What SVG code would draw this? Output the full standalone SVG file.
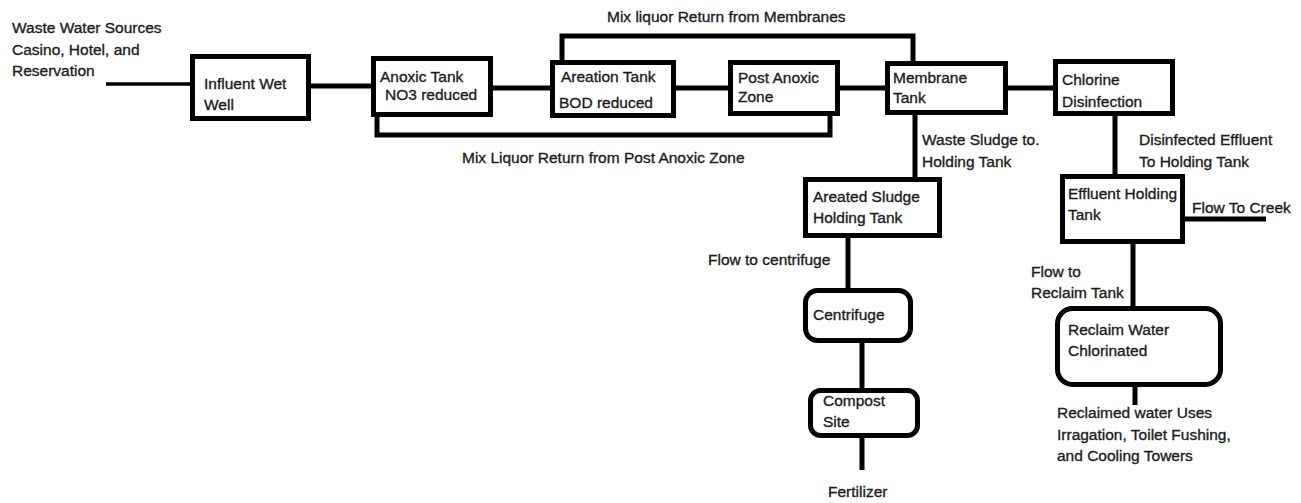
<svg xmlns="http://www.w3.org/2000/svg" width="1301" height="503" viewBox="0 0 1301 503">
<style>
.box{fill:#fff;stroke:#000;stroke-width:5}
.ln{fill:none;stroke:#000;stroke-width:5;stroke-linejoin:miter}
text{font-family:"Liberation Sans",Arial,sans-serif;font-size:15.5px;fill:#1c1c1c;stroke:#1c1c1c;stroke-width:0.35}
</style>
<rect width="1301" height="503" fill="#fff"/>
<g id="connectors">
<path class="ln" d="M106 84 H192" style="stroke-width:3.5"/>
<path class="ln" d="M311 86 H373"/>
<path class="ln" d="M493 88 H552"/>
<path class="ln" d="M676 88 H730"/>
<path class="ln" d="M840 88 H887"/>
<path class="ln" d="M1008 88 H1055"/>
<path class="ln" d="M562 62 V36 H913 V63"/>
<path class="ln" d="M377 115 V135 H830 V114"/>
<path class="ln" d="M915 115 V179"/>
<path class="ln" d="M848 238 V290"/>
<path class="ln" d="M862 343 V390"/>
<path class="ln" d="M862 438 V470"/>
<path class="ln" d="M1115 116 V176"/>
<path class="ln" d="M1185 219 H1266"/>
<path class="ln" d="M1133 244 V308"/>
<path class="ln" d="M1135 387 V405"/>
</g>
<g id="labels">
<text x="12" y="33">Waste Water Sources</text>
<text x="12" y="55">Casino, Hotel, and</text>
<text x="12" y="76">Reservation</text>
<text x="607" y="22">Mix liquor Return from Membranes</text>
<text x="462" y="163">Mix Liquor Return from Post Anoxic Zone</text>
<text x="922" y="145">Waste Sludge to.</text>
<text x="922" y="167">Holding Tank</text>
<text x="1139" y="145">Disinfected Effluent</text>
<text x="1139" y="167">To Holding Tank</text>
<text x="1192" y="213">Flow To Creek</text>
<text x="708" y="265">Flow to centrifuge</text>
<text x="1031" y="277">Flow to</text>
<text x="1031" y="298">Reclaim Tank</text>
<text x="828" y="497">Fertilizer</text>
<text x="1057" y="418">Reclaimed water Uses</text>
<text x="1057" y="440">Irragation, Toilet Fushing,</text>
<text x="1057" y="461">and Cooling Towers</text>
</g>
<g id="influent">
<rect class="box" x="192.5" y="56.5" width="116" height="62"/>
<text x="204" y="89">Influent Wet</text>
<text x="204" y="110">Well</text>
</g>
<g id="anoxic">
<rect class="box" x="373.5" y="58.5" width="117" height="56"/>
<text x="380" y="82">Anoxic Tank</text>
<text x="385" y="100">NO3 reduced</text>
</g>
<g id="aeration">
<rect class="box" x="552.5" y="62.5" width="121" height="53"/>
<text x="561" y="82">Areation Tank</text>
<text x="559" y="108">BOD reduced</text>
</g>
<g id="postanoxic">
<rect class="box" x="730.5" y="62.5" width="107" height="51"/>
<text x="738" y="83">Post Anoxic</text>
<text x="738" y="102">Zone</text>
</g>
<g id="membrane">
<rect class="box" x="887.5" y="63.5" width="118" height="49"/>
<text x="893" y="83">Membrane</text>
<text x="893" y="103">Tank</text>
</g>
<g id="chlorine">
<rect class="box" x="1055.5" y="61.5" width="117" height="52"/>
<text x="1062" y="85">Chlorine</text>
<text x="1062" y="107">Disinfection</text>
</g>
<g id="sludge">
<rect class="box" x="805.5" y="179.5" width="134" height="56"/>
<text x="813" y="202">Areated Sludge</text>
<text x="813" y="223">Holding Tank</text>
</g>
<g id="effluent">
<rect class="box" x="1062.5" y="176.5" width="120" height="65"/>
<text x="1068" y="199">Effluent Holding</text>
<text x="1068" y="220">Tank</text>
</g>
<g id="centrifuge">
<rect class="box" x="805.5" y="290.5" width="105" height="50" rx="12"/>
<text x="813" y="320">Centrifuge</text>
</g>
<g id="compost">
<rect class="box" x="810.5" y="390.5" width="107" height="45" rx="10"/>
<text x="823" y="406">Compost</text>
<text x="823" y="427">Site</text>
</g>
<g id="reclaim">
<rect class="box" x="1057.5" y="308.5" width="163" height="76" rx="15"/>
<text x="1068" y="335">Reclaim Water</text>
<text x="1068" y="356">Chlorinated</text>
</g>
</svg>
